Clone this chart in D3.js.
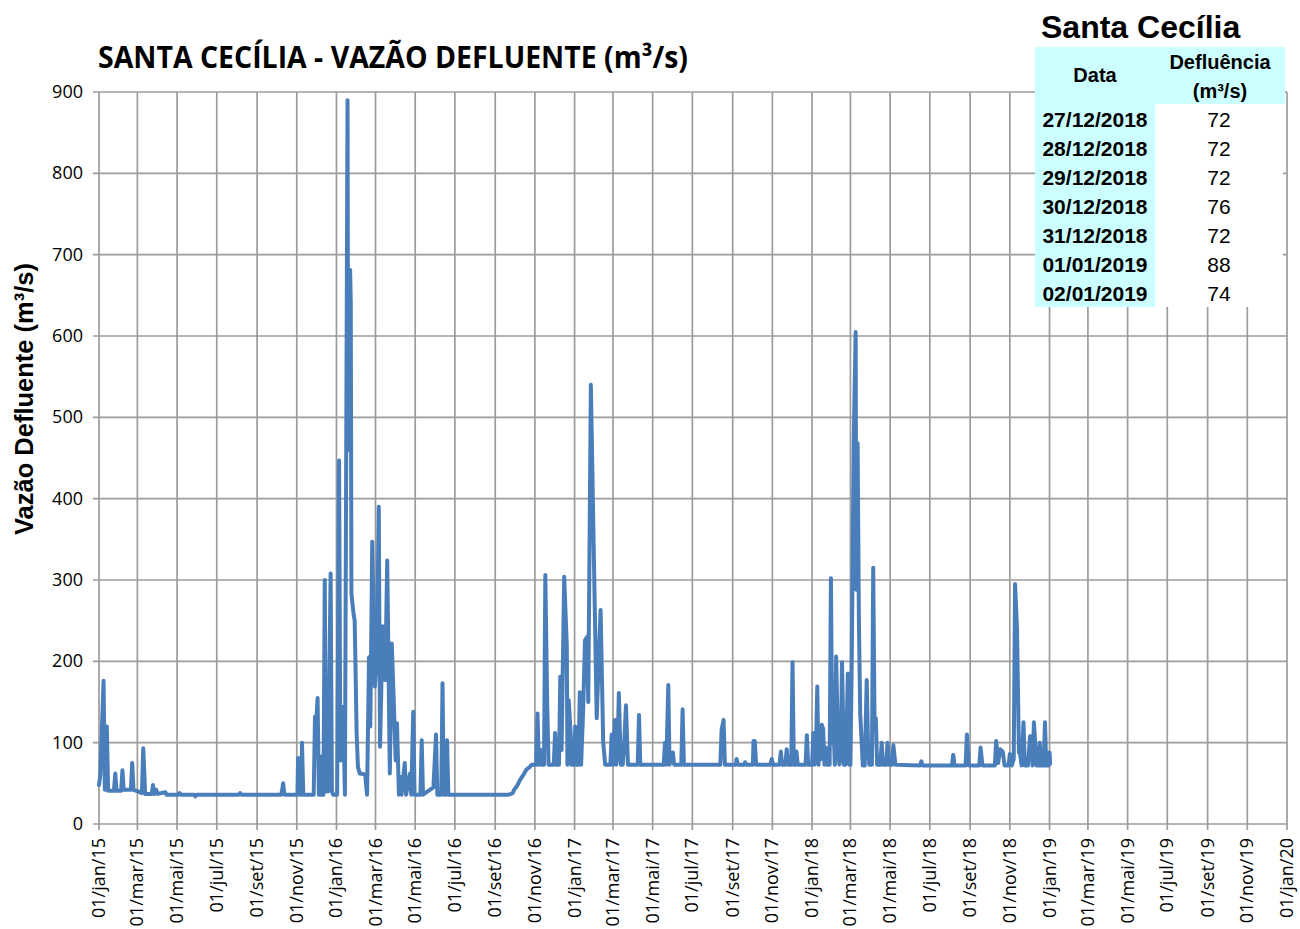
<!DOCTYPE html>
<html>
<head>
<meta charset="utf-8">
<script src="https://cdn.jsdelivr.net/npm/d3@7"></script>
<style>
  body { margin: 0; background: #fff; }
  svg { display: block; }
</style>
</head>
<body>
<div id="chart"></div>
<script>
// daily outflow (peaks and the base level between them)
const dates = [
  "2015-01-01","2015-01-03","2015-01-08","2015-01-10","2015-01-13","2015-01-15","2015-01-24","2015-01-26","2015-01-28",
  "2015-02-04","2015-02-06","2015-02-08","2015-02-19","2015-02-21","2015-02-23","2015-03-02","2015-03-08","2015-03-10",
  "2015-03-13","2015-03-23","2015-03-25","2015-03-27","2015-03-30","2015-04-01","2015-04-13","2015-04-15","2015-05-03",
  "2015-05-05","2015-05-07","2015-05-27","2015-05-29","2015-05-31","2015-08-04","2015-08-06","2015-08-08","2015-10-08",
  "2015-10-10","2015-10-11","2015-10-13","2015-11-02","2015-11-03","2015-11-05","2015-11-08","2015-11-09","2015-11-11",
  "2015-11-27","2015-11-29","2015-12-01","2015-12-03","2015-12-05","2015-12-08","2015-12-09","2015-12-10","2015-12-12",
  "2015-12-14","2015-12-16","2015-12-17","2015-12-19","2015-12-23","2015-12-25","2015-12-27",
  "2016-01-02","2016-01-05","2016-01-07","2016-01-11","2016-01-14","2016-01-18","2016-01-19","2016-01-22","2016-01-23",
  "2016-01-24","2016-01-27","2016-01-29","2016-02-01","2016-02-03","2016-02-06","2016-02-14","2016-02-17","2016-02-20",
  "2016-02-22","2016-02-25","2016-02-29","2016-03-03","2016-03-06","2016-03-08","2016-03-12","2016-03-16","2016-03-19",
  "2016-03-23","2016-03-26","2016-03-29","2016-04-01","2016-04-03","2016-04-06","2016-04-08","2016-04-10","2016-04-15",
  "2016-04-17","2016-04-23","2016-04-25","2016-04-28","2016-04-30","2016-05-09","2016-05-11","2016-05-13","2016-05-29",
  "2016-06-02","2016-06-04","2016-06-10","2016-06-12","2016-06-14","2016-06-17","2016-06-19","2016-06-21","2016-09-22",
  "2016-09-28","2016-09-30","2016-10-04","2016-10-09","2016-10-14","2016-10-19","2016-10-24","2016-10-27","2016-11-03",
  "2016-11-05","2016-11-07","2016-11-10","2016-11-11","2016-11-15","2016-11-17","2016-11-20","2016-11-22","2016-11-30",
  "2016-12-02","2016-12-04","2016-12-08","2016-12-10","2016-12-12","2016-12-16","2016-12-20","2016-12-21","2016-12-23",
  "2016-12-26","2016-12-27","2016-12-31",
  "2017-01-02","2017-01-04","2017-01-07","2017-01-09","2017-01-11","2017-01-14","2017-01-17","2017-01-20","2017-01-22",
  "2017-01-26","2017-01-29","2017-02-01","2017-02-04","2017-02-07","2017-02-10","2017-02-14","2017-02-17","2017-02-25",
  "2017-02-27","2017-03-01","2017-03-04","2017-03-06","2017-03-08","2017-03-10","2017-03-13","2017-03-16","2017-03-18",
  "2017-03-21","2017-03-24","2017-04-08","2017-04-10","2017-04-12","2017-05-18","2017-05-20","2017-05-22","2017-05-25",
  "2017-05-27","2017-06-01","2017-06-03","2017-06-14","2017-06-16","2017-06-18","2017-08-13","2017-08-15","2017-08-18",
  "2017-08-20","2017-09-06","2017-09-07","2017-09-09","2017-09-19","2017-09-20","2017-09-22","2017-10-02","2017-10-03",
  "2017-10-05","2017-10-07","2017-10-29","2017-10-31","2017-11-02","2017-11-12","2017-11-14","2017-11-16","2017-11-21",
  "2017-11-23","2017-11-25","2017-11-30","2017-12-02","2017-12-04","2017-12-07","2017-12-08","2017-12-10","2017-12-22",
  "2017-12-24","2017-12-26",
  "2018-01-01","2018-01-03","2018-01-05","2018-01-07","2018-01-09","2018-01-11","2018-01-13","2018-01-15","2018-01-16",
  "2018-01-18","2018-01-20","2018-01-22","2018-01-24","2018-01-28","2018-01-30","2018-02-01","2018-02-03","2018-02-05",
  "2018-02-07","2018-02-10","2018-02-12","2018-02-14","2018-02-16","2018-02-19","2018-02-21","2018-02-23","2018-02-25",
  "2018-02-27","2018-03-01","2018-03-03","2018-03-06","2018-03-09","2018-03-10","2018-03-12","2018-03-14","2018-03-16",
  "2018-03-20","2018-03-23","2018-03-26","2018-03-28","2018-03-30","2018-04-03","2018-04-05","2018-04-07","2018-04-09",
  "2018-04-11","2018-04-16","2018-04-18","2018-04-20","2018-04-25","2018-04-27","2018-04-29","2018-05-04","2018-05-06",
  "2018-05-09","2018-06-16","2018-06-18","2018-06-20","2018-08-04","2018-08-06","2018-08-08","2018-08-25","2018-08-27",
  "2018-08-30","2018-09-15","2018-09-17","2018-09-20","2018-10-09","2018-10-11","2018-10-14","2018-10-17","2018-10-21",
  "2018-10-24","2018-10-30","2018-11-01","2018-11-04","2018-11-07","2018-11-09","2018-11-12","2018-11-15","2018-11-17",
  "2018-11-19","2018-11-22","2018-11-24","2018-11-29","2018-12-02","2018-12-04","2018-12-06","2018-12-08","2018-12-10",
  "2018-12-12","2018-12-15","2018-12-17","2018-12-19","2018-12-23","2018-12-25","2018-12-27","2018-12-28","2018-12-29",
  "2018-12-30","2018-12-31","2019-01-01","2019-01-02"
];
const values = [
  48,60,176,42,120,41,41,62,41,
  41,66,42,42,75,42,40,38,93,
  37,37,48,37,42,37,39,36,36,
  38,36,36,34,36,36,38,36,36,
  44,50,36,36,81,36,36,100,36,
  36,132,128,155,36,36,83,36,36,
  300,40,115,40,308,40,36,
  36,447,78,144,36,890,460,681,640,
  283,260,250,111,70,62,61,36,205,
  120,347,169,205,390,95,243,177,324,
  62,222,152,78,124,36,58,36,75,
  36,62,36,138,36,36,103,36,45,
  110,36,36,173,36,36,103,36,36,
  38,42,46,54,60,67,70,73,73,
  136,73,91,73,73,306,144,73,73,
  112,73,73,181,91,304,220,73,152,
  110,73,73,
  120,73,73,162,73,136,226,230,150,
  540,404,267,130,200,263,100,73,73,
  110,73,128,73,90,161,73,73,95,
  146,73,73,134,73,73,100,73,171,
  73,88,73,73,141,73,73,116,128,
  73,73,80,73,73,76,73,73,102,
  102,73,73,80,73,73,89,73,73,
  92,73,73,199,73,73,89,73,73,
  109,73,
  73,112,73,90,169,73,115,80,122,
  117,73,94,73,73,302,100,120,73,
  206,90,73,80,199,73,73,110,185,
  73,73,200,468,605,288,468,250,136,
  72,72,177,100,73,73,315,130,130,
  73,73,100,73,73,100,73,73,97,
  73,72,77,72,72,85,72,72,110,
  72,72,94,72,72,102,75,92,89,
  72,72,86,72,80,295,240,88,85,
  72,125,72,72,108,108,72,125,100,
  72,72,100,72,72,125,72,72,72,
  76,72,88,74
];

// table in the top right corner
const tableDates = ["27/12/2018","28/12/2018","29/12/2018","30/12/2018","31/12/2018","01/01/2019","02/01/2019"];
const tableValues = [72, 72, 72, 76, 72, 88, 74];

const monthNames = ["jan","fev","mar","abr","mai","jun","jul","ago","set","out","nov","dez"];
const yTicks = [0, 100, 200, 300, 400, 500, 600, 700, 800, 900];

const width = 1300, height = 929;
const plot = { left: 99, right: 1287, top: 92, bottom: 824 };
const gridColor = "#9c9c9c";
const lineColor = "#4a7ebb";
const cyan = "#ccffff";

const parse = d3.timeParse("%Y-%m-%d");
const series = dates.map((d, i) => ({ date: parse(d), value: values[i] }));

const svg = d3.select("#chart").append("svg")
  .attr("width", width)
  .attr("height", height);

const x = d3.scaleTime()
  .domain([parse("2015-01-01"), parse("2020-01-01")])
  .range([plot.left, plot.right]);

const y = d3.scaleLinear()
  .domain([0, 900])
  .range([plot.bottom, plot.top]);

const xTicks = d3.timeMonth.every(2).range(parse("2015-01-01"), parse("2020-01-02"));
const xLabel = (d) => "01/" + monthNames[d.getMonth()] + "/" + String(d.getFullYear()).slice(2);

// grid
svg.append("g")
  .selectAll("line")
  .data(yTicks)
  .join("line")
  .attr("x1", plot.left - 6)
  .attr("x2", plot.right)
  .attr("y1", (d) => y(d))
  .attr("y2", (d) => y(d))
  .attr("stroke", gridColor)
  .attr("stroke-width", 1.7);

svg.append("g")
  .selectAll("line")
  .data(xTicks)
  .join("line")
  .attr("x1", (d) => x(d))
  .attr("x2", (d) => x(d))
  .attr("y1", plot.top)
  .attr("y2", plot.bottom + 6)
  .attr("stroke", gridColor)
  .attr("stroke-width", 1.7);

// y tick labels
svg.append("g")
  .selectAll("text")
  .data(yTicks)
  .join("text")
  .attr("x", 83)
  .attr("y", (d) => y(d) + 6)
  .attr("text-anchor", "end")
  .style("font-family", "'Liberation Sans Narrow', 'Open Sans', sans-serif")
  .style("font-size", "18px")
  .attr("fill", "#000")
  .text((d) => d);

// x tick labels, rotated
svg.append("g")
  .selectAll("text")
  .data(xTicks)
  .join("text")
  .attr("transform", (d) => `translate(${x(d) + 6}, 838) rotate(-90)`)
  .attr("text-anchor", "end")
  .style("font-family", "'Liberation Sans Narrow', 'Open Sans', sans-serif")
  .style("font-size", "18px")
  .attr("fill", "#000")
  .text(xLabel);

// the series
const line = d3.line()
  .x((d) => x(d.date))
  .y((d) => y(d.value));

svg.append("path")
  .datum(series)
  .attr("d", line)
  .attr("fill", "none")
  .attr("stroke", lineColor)
  .attr("stroke-width", 4)
  .attr("stroke-linejoin", "round")
  .attr("stroke-linecap", "round");

// titles
svg.append("text")
  .attr("x", 98)
  .attr("y", 68)
  .attr("textLength", 590)
  .attr("lengthAdjust", "spacingAndGlyphs")
  .style("font-family", "'Open Sans', sans-serif")
  .style("font-weight", "bold")
  .style("font-size", "30px")
  .text("SANTA CECÍLIA - VAZÃO DEFLUENTE (m³/s)");

svg.append("text")
  .attr("transform", "translate(33, 399) rotate(-90)")
  .attr("text-anchor", "middle")
  .style("font-family", "'Liberation Sans', Arial, sans-serif")
  .style("font-weight", "bold")
  .style("font-size", "25.5px")
  .text("Vazão Defluente (m³/s)");

// table
const table = svg.append("g");
const rowTop = 104, rowH = 29;
const col1 = { x: 1035, w: 120 }, col2 = { x: 1155, w: 130 };

table.append("rect")
  .attr("x", col1.x).attr("y", 47)
  .attr("width", col1.w + col2.w).attr("height", rowTop - 47)
  .attr("fill", cyan);

table.append("rect")
  .attr("x", col1.x).attr("y", rowTop)
  .attr("width", col1.w).attr("height", rowH * tableDates.length)
  .attr("fill", cyan);

table.append("rect")
  .attr("x", col2.x).attr("y", rowTop)
  .attr("width", col2.w - 2).attr("height", rowH * tableDates.length)
  .attr("fill", "#fff");

const tFont = "'Liberation Sans', Arial, sans-serif";

table.append("text")
  .attr("x", 1041).attr("y", 38)
  .style("font-family", tFont).style("font-weight", "bold").style("font-size", "32px")
  .text("Santa Cecília");

table.append("text")
  .attr("x", col1.x + col1.w / 2).attr("y", 82)
  .attr("text-anchor", "middle")
  .style("font-family", tFont).style("font-weight", "bold").style("font-size", "20px")
  .text("Data");

table.append("text")
  .attr("x", col2.x + col2.w / 2).attr("y", 69)
  .attr("text-anchor", "middle")
  .style("font-family", tFont).style("font-weight", "bold").style("font-size", "20px")
  .text("Defluência");

table.append("text")
  .attr("x", col2.x + col2.w / 2).attr("y", 98)
  .attr("text-anchor", "middle")
  .style("font-family", tFont).style("font-weight", "bold").style("font-size", "20px")
  .text("(m³/s)");

table.selectAll(".tdate")
  .data(tableDates)
  .join("text")
  .attr("class", "tdate")
  .attr("x", col1.x + col1.w / 2)
  .attr("y", (d, i) => rowTop + i * rowH + 23)
  .attr("text-anchor", "middle")
  .style("font-family", tFont).style("font-weight", "bold").style("font-size", "21px")
  .text((d) => d);

table.selectAll(".tval")
  .data(tableValues)
  .join("text")
  .attr("class", "tval")
  .attr("x", col2.x + 64)
  .attr("y", (d, i) => rowTop + i * rowH + 23)
  .attr("text-anchor", "middle")
  .style("font-family", tFont).style("font-size", "21px")
  .text((d) => d);
</script>
</body>
</html>
